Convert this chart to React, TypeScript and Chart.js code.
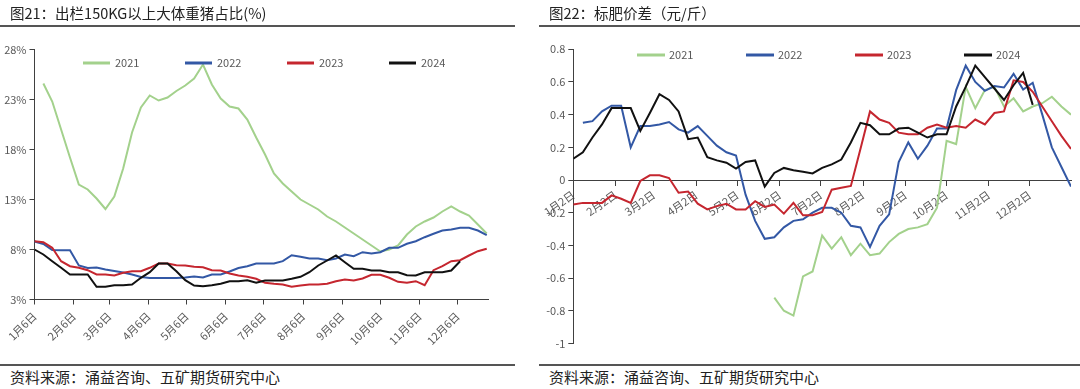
import React, { useEffect, useRef } from 'react';
import { Chart, registerables } from 'chart.js';
Chart.register(...registerables);

// ---------- shared ----------
const years = ['2021', '2022', '2023', '2024'];
const lineColors = ['#a3d18c', '#3358a5', '#c5262f', '#111111'];
const FONT = '"Noto Sans CJK SC", "Noto Sans", sans-serif';
const AXIS = '#404040';
const TICK_TEXT = '#595959';

// ---------- left chart: share of >150kg hogs (%) ----------
const leftMonthLabels = ['1月6日', '2月6日', '3月6日', '4月6日', '5月6日', '6月6日', '7月6日', '8月6日', '9月6日', '10月6日', '11月6日', '12月6日'];
const leftMonthDays = [5, 36, 64, 95, 125, 156, 186, 217, 248, 278, 309, 339];
const leftStartDays = [12, 5, 5, 5];
const left2021 = [24.6, 22.8, 20.0, 17.2, 14.5, 14.0, 13.1, 12.05, 13.3, 16.1, 19.7, 22.2, 23.4, 22.9, 23.2, 23.85, 24.4, 25.1, 26.5, 24.5, 23.1, 22.3, 22.1, 21.0, 19.2, 17.5, 15.6, 14.6, 13.8, 13.0, 12.5, 12.0, 11.3, 10.8, 10.2, 9.6, 9.0, 8.4, 7.8, 8.0, 8.4, 9.5, 10.3, 10.8, 11.2, 11.8, 12.3, 11.8, 11.4, 10.5, 9.6];
const left2022 = [8.8, 8.55, 7.95, 7.93, 7.93, 6.4, 6.15, 6.2, 6.0, 5.85, 5.7, 5.5, 5.25, 5.15, 5.15, 5.15, 5.15, 5.2, 5.3, 5.2, 5.5, 5.5, 5.8, 6.15, 6.33, 6.6, 6.6, 6.6, 6.83, 7.43, 7.27, 7.1, 7.1, 6.93, 7.1, 7.5, 7.33, 7.73, 7.6, 7.73, 8.17, 8.17, 8.57, 8.83, 9.23, 9.57, 9.9, 10.0, 10.17, 10.17, 9.9, 9.43];
const left2023 = [8.83, 8.73, 8.17, 6.83, 6.33, 6.17, 5.93, 5.5, 5.5, 5.4, 5.67, 5.83, 5.83, 6.17, 6.6, 6.6, 6.43, 6.4, 6.27, 6.23, 5.93, 5.9, 5.6, 5.4, 5.27, 5.07, 4.67, 4.57, 4.5, 4.27, 4.4, 4.5, 4.5, 4.57, 4.83, 5.0, 4.9, 5.1, 5.47, 5.47, 5.17, 4.77, 4.67, 4.83, 4.43, 5.93, 6.33, 6.83, 6.93, 7.4, 7.83, 8.07];
const left2024 = [8.0, 7.5, 6.83, 6.17, 5.5, 5.5, 5.5, 4.27, 4.27, 4.43, 4.43, 4.5, 5.17, 5.73, 6.6, 6.6, 5.83, 4.93, 4.4, 4.33, 4.43, 4.57, 4.83, 4.83, 4.93, 4.67, 4.9, 4.9, 4.9, 5.07, 5.27, 5.73, 6.4, 6.9, 7.4, 6.73, 6.07, 6.07, 5.9, 5.9, 5.73, 5.73, 5.43, 5.4, 5.73, 5.73, 5.73, 5.9, 6.83];
const leftYTicks = [3, 8, 13, 18, 23, 28];

// ---------- right chart: fat-standard hog price spread (yuan/jin) ----------
const rightMonthLabels = ['1月2日', '2月2日', '3月2日', '4月2日', '5月2日', '6月2日', '7月2日', '8月2日', '9月2日', '10月2日', '11月2日', '12月2日'];
const rightMonthDays = [1, 32, 60, 91, 121, 152, 182, 213, 244, 274, 305, 335];
const rightStartDays = [148, 8, 1, 1];
const right2021 = [-0.72, -0.80, -0.83, -0.59, -0.56, -0.34, -0.42, -0.35, -0.46, -0.39, -0.46, -0.45, -0.38, -0.33, -0.30, -0.29, -0.27, -0.17, 0.24, 0.22, 0.57, 0.44, 0.55, 0.57, 0.45, 0.50, 0.42, 0.45, 0.47, 0.51, 0.45, 0.40];
const right2022 = [0.35, 0.36, 0.42, 0.455, 0.455, 0.20, 0.33, 0.33, 0.34, 0.355, 0.31, 0.29, 0.33, 0.27, 0.21, 0.17, 0.15, -0.09, -0.25, -0.36, -0.35, -0.29, -0.25, -0.24, -0.20, -0.17, -0.17, -0.20, -0.28, -0.29, -0.41, -0.28, -0.21, 0.11, 0.23, 0.13, 0.21, 0.315, 0.315, 0.55, 0.70, 0.60, 0.546, 0.575, 0.566, 0.65, 0.554, 0.595, 0.40, 0.20, 0.08, -0.04];
const right2023 = [-0.15, -0.14, -0.14, -0.14, -0.094, -0.115, -0.14, -0.006, 0.029, 0.029, 0.012, -0.078, -0.07, -0.145, -0.18, -0.16, -0.145, -0.18, -0.18, -0.13, -0.165, -0.15, -0.206, -0.14, -0.216, -0.216, -0.196, -0.059, -0.047, -0.036, 0.19, 0.42, 0.37, 0.35, 0.29, 0.28, 0.28, 0.32, 0.34, 0.32, 0.33, 0.32, 0.37, 0.34, 0.41, 0.42, 0.61, 0.60, 0.54, 0.45, 0.36, 0.27, 0.19];
const right2024 = [0.13, 0.17, 0.26, 0.34, 0.44, 0.44, 0.44, 0.30, 0.41, 0.525, 0.49, 0.42, 0.25, 0.26, 0.14, 0.12, 0.106, 0.07, 0.11, 0.12, -0.04, 0.043, 0.074, 0.06, 0.05, 0.04, 0.074, 0.096, 0.125, 0.23, 0.35, 0.335, 0.28, 0.28, 0.315, 0.32, 0.29, 0.26, 0.28, 0.28, 0.45, 0.57, 0.70, 0.63, 0.56, 0.49, 0.58, 0.656, 0.46];

const weekly = (start: number, values: number[]) => values.map((v, i) => ({ x: start + 7 * i, y: v }));

const makeDatasets = (series: number[][], starts: number[]) =>
  series.map((vals, i) => ({
    label: years[i],
    data: weekly(starts[i], vals),
    borderColor: lineColors[i],
    backgroundColor: lineColors[i],
    borderWidth: 2,
    pointRadius: 0,
    tension: 0,
    fill: false,
    order: series.length - 1 - i,
  }));

const insideLegend = (cfg: { x0: number; y: number; pitch: number; len: number; gap: number }) => ({
  id: 'insideLegend',
  afterDatasetsDraw(chart: any) {
    const ctx = chart.ctx;
    ctx.save();
    chart.data.datasets.forEach((ds: any, i: number) => {
      const x = cfg.x0 + i * cfg.pitch;
      ctx.strokeStyle = ds.borderColor;
      ctx.lineWidth = 3;
      ctx.beginPath();
      ctx.moveTo(x, cfg.y);
      ctx.lineTo(x + cfg.len, cfg.y);
      ctx.stroke();
      ctx.fillStyle = TICK_TEXT;
      ctx.font = `11px ${FONT}`;
      ctx.textBaseline = 'middle';
      ctx.textAlign = 'left';
      ctx.fillText(ds.label, x + cfg.len + cfg.gap, cfg.y);
    });
    ctx.restore();
  },
});

const axisGrid = { display: true, drawOnChartArea: false, drawTicks: true, tickLength: 5, color: AXIS, lineWidth: 1 };
const axisBorder = { display: true, color: AXIS, width: 1 };

function LeftChart() {
  const ref = useRef<HTMLCanvasElement>(null);
  useEffect(() => {
    const chart = new Chart(ref.current!, {
      type: 'line',
      data: { datasets: makeDatasets([left2021, left2022, left2023, left2024], leftStartDays) as any },
      options: {
        animation: false,
        responsive: false,
        layout: { padding: { top: 49.5, right: 27, left: 0, bottom: 0 } },
        plugins: { legend: { display: false }, tooltip: { enabled: false } },
        scales: {
          x: {
            type: 'linear',
            min: 5,
            max: 363,
            afterBuildTicks: (axis: any) => { axis.ticks = leftMonthDays.map((v) => ({ value: v })); },
            afterFit: (axis: any) => { axis.height = 65.5; },
            ticks: {
              autoSkip: false,
              minRotation: 45,
              maxRotation: 45,
              padding: 5,
              color: TICK_TEXT,
              font: { family: FONT, size: 11 },
              callback: (_v: any, i: number) => leftMonthLabels[i],
            },
            grid: axisGrid,
            border: axisBorder,
          },
          y: {
            type: 'linear',
            min: 3,
            max: 28,
            afterBuildTicks: (axis: any) => { axis.ticks = leftYTicks.map((v) => ({ value: v })); },
            afterFit: (axis: any) => { axis.width = 34.5; },
            ticks: {
              padding: 3,
              color: TICK_TEXT,
              font: { family: FONT, size: 11 },
              callback: (v: any) => `${v}%`,
            },
            grid: axisGrid,
            border: axisBorder,
          },
        },
      },
      plugins: [insideLegend({ x0: 83, y: 63, pitch: 102, len: 27, gap: 5 })],
    } as any);
    return () => chart.destroy();
  }, []);
  return <canvas ref={ref} width={515} height={365} style={{ position: 'absolute', left: 0, top: 0 }} />;
}

function RightChart() {
  const ref = useRef<HTMLCanvasElement>(null);
  useEffect(() => {
    const chart = new Chart(ref.current!, {
      type: 'line',
      data: { datasets: makeDatasets([right2021, right2022, right2023, right2024], rightStartDays) as any },
      options: {
        animation: false,
        responsive: false,
        layout: { padding: { top: 49.3, right: 9, left: 0, bottom: 21.6 } },
        plugins: { legend: { display: false }, tooltip: { enabled: false } },
        scales: {
          x: {
            type: 'linear',
            position: { y: 0 },
            min: 1,
            max: 365,
            afterBuildTicks: (axis: any) => { axis.ticks = rightMonthDays.map((v) => ({ value: v })); },
            ticks: {
              autoSkip: false,
              minRotation: 35,
              maxRotation: 35,
              padding: 3,
              color: TICK_TEXT,
              font: { family: FONT, size: 11 },
              callback: (_v: any, i: number) => rightMonthLabels[i],
            },
            grid: axisGrid,
            border: axisBorder,
          },
          y: {
            type: 'linear',
            min: -1,
            max: 0.8,
            afterFit: (axis: any) => { axis.width = 33.3; },
            ticks: {
              stepSize: 0.2,
              padding: 3,
              color: TICK_TEXT,
              font: { family: FONT, size: 11 },
              callback: (v: any) => `${Math.round(Number(v) * 10) / 10}`,
            },
            grid: axisGrid,
            border: axisBorder,
          },
        },
      },
      plugins: [insideLegend({ x0: 97, y: 55, pitch: 109, len: 28, gap: 4 })],
    } as any);
    return () => chart.destroy();
  }, []);
  return <canvas ref={ref} width={540} height={365} style={{ position: 'absolute', left: 540, top: 0 }} />;
}

export default function App() {
  useEffect(() => {
    document.body.style.margin = '0';
  }, []);
  const title: React.CSSProperties = { position: 'absolute', top: 3, fontSize: 14.5, lineHeight: '20px', color: '#222', whiteSpace: 'nowrap' };
  const foot: React.CSSProperties = { position: 'absolute', top: 367, fontSize: 15, lineHeight: '20px', color: '#222', whiteSpace: 'nowrap' };
  const rule = (left: number, top: number, width: number): React.CSSProperties => ({ position: 'absolute', left, top, width, height: 1.5, background: '#555' });
  return (
    <div style={{ position: 'relative', width: 1080, height: 389, background: '#fff', fontFamily: FONT, overflow: 'hidden' }}>
      <LeftChart />
      <RightChart />
      <div style={{ ...title, left: 10 }}>图21：出栏150KG以上大体重猪占比(%)</div>
      <div style={{ ...title, left: 549 }}>图22：标肥价差（元/斤）</div>
      <div style={rule(0, 25, 515)} />
      <div style={rule(539, 25, 541)} />
      <div style={rule(0, 364, 515)} />
      <div style={rule(539, 364, 541)} />
      <div style={{ ...foot, left: 10 }}>资料来源：涌益咨询、五矿期货研究中心</div>
      <div style={{ ...foot, left: 549 }}>资料来源：涌益咨询、五矿期货研究中心</div>
    </div>
  );
}
